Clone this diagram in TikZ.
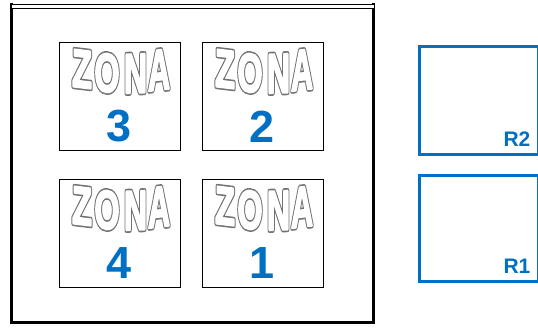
\documentclass[tikz,border=0pt]{standalone}
\usepackage{fontspec}
\setmainfont{Liberation Sans}
\definecolor{zblue}{RGB}{0,112,196}
\newcommand{\zlet}[3]{\resizebox{#2pt}{#3pt}{\textcolor{white}{\rlap{\special{pdf:literal direct 0.45 g 0.45 G 5.4 w 1 j 2 Tr}#1}\special{pdf:literal direct 1 g 1 G 2.2 w 1 j 2 Tr}#1\special{pdf:literal direct 0 Tr}}}}
\tikzset{
  zonebox/.style={draw=black, line width=1pt, minimum width=121pt, minimum height=108pt, inner sep=0pt, anchor=north west},
  letter/.style={inner sep=0pt, font=\fontsize{54}{54}\selectfont\bfseries},
  numlabel/.style={inner sep=0pt, text=zblue, font=\fontsize{45}{45}\selectfont\bfseries},
  rbox/.style={draw=zblue, line width=2.6pt, inner sep=0pt, anchor=north west, minimum width=119pt},
  rlabel/.style={inner sep=0pt, text=zblue, font=\fontsize{21}{21}\selectfont\bfseries, anchor=base east},
  frameline/.style={line width=3pt, black},
  zone/.pic={
    \node[zonebox] (-box) at (0,0) {};
    \node[letter, yslant=-0.12] (-z) at (23,27) {\zlet{Z}{20}{37}};
    \node[letter, yslant=-0.04] (-o) at (48,31) {\zlet{O}{25}{38}};
    \node[letter, yslant=0.04] (-n) at (76.5,31.5) {\zlet{N}{23}{38.5}};
    \node[letter, yslant=0.12] (-a) at (100,28) {\zlet{A}{22}{39.5}};
    \node[numlabel] (-num) at (60.5,84.5) {#1};
  }
}
\begin{document}
\begin{tikzpicture}[x=1pt,y=-1pt]
\useasboundingbox (0,0) rectangle (538,328);
% outer frame
\draw[frameline] (11.5,3) -- (11.5,323) -- (373.5,323) -- (373.5,3);
\draw[black, line width=0.9pt, double=white, double distance=2.4pt] (11.5,6.5) -- (373.5,6.5);
% zones
\pic (z3) at (59,42) {zone=3};
\pic (z2) at (202,42) {zone=2};
\pic (z4) at (59,179) {zone=4};
\pic (z1) at (202,179) {zone=1};
% R boxes
\node[rbox, minimum height=108pt] (r2) at (418,45) {};
\node[rbox, minimum height=106pt] (r1) at (418,174) {};
\node[rlabel] (r2l) at ([shift={(-9pt,9.5pt)}]r2.south east) {R2};
\node[rlabel] (r1l) at ([shift={(-9pt,9.5pt)}]r1.south east) {R1};
\end{tikzpicture}
\end{document}
